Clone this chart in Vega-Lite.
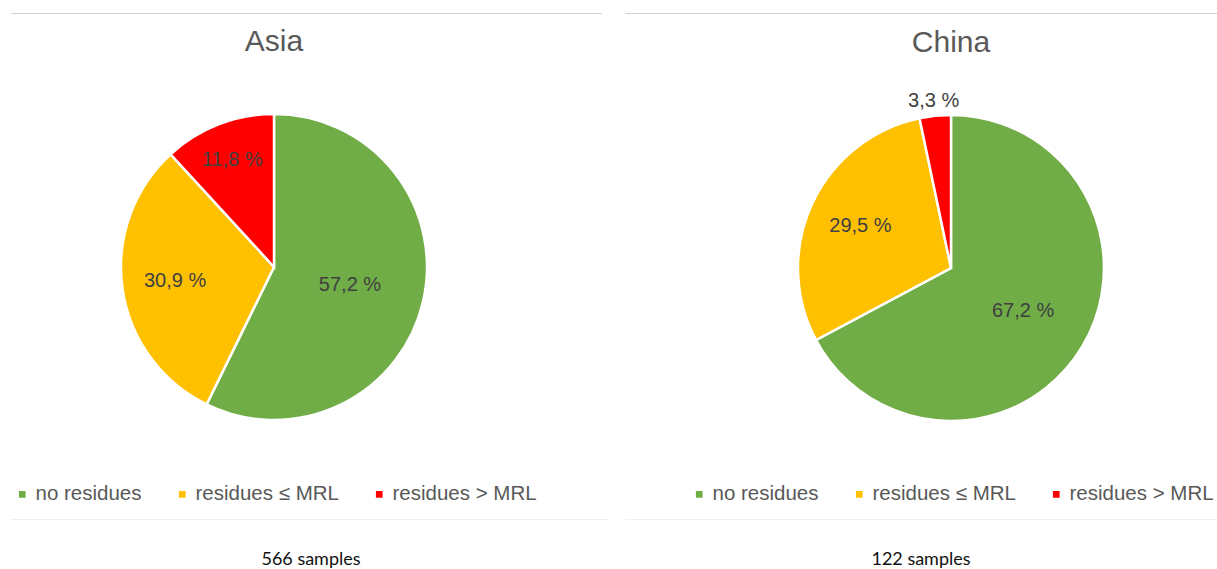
{
  "$schema": "https://vega.github.io/schema/vega-lite/v6.json",
  "padding": {"left": 10, "top": 12, "right": 0, "bottom": 0},
  "background": "white",
  "config": {
    "view": {"stroke": null},
    "font": "Liberation Sans",
    "title": {"fontSize": 30, "fontWeight": "normal", "color": "#595959", "anchor": "middle"},
    "legend": {"layout": {"bottom": {"anchor": "middle"}}}
  },
  "datasets": {
    "asia": [
      {"cat": "no residues", "pct": 57.2, "k": 1, "label": "57,2 %"},
      {"cat": "residues ≤ MRL", "pct": 30.9, "k": 2, "label": "30,9 %"},
      {"cat": "residues > MRL", "pct": 11.8, "k": 3, "label": "11,8 %"}
    ],
    "china": [
      {"cat": "no residues", "pct": 67.2, "k": 1, "label": "67,2 %"},
      {"cat": "residues ≤ MRL", "pct": 29.5, "k": 2, "label": "29,5 %"},
      {"cat": "residues > MRL", "pct": 3.3, "k": 3, "label": "3,3 %"}
    ],
    "blank": [],
    "asiaFoot": [{"t": "566 samples"}],
    "chinaFoot": [{"t": "122 samples"}]
  },
  "spacing": 13,
  "resolve": {"legend": {"color": "independent"}},
  "hconcat": [
    {
      "spacing": 13,
      "resolve": {"legend": {"color": "independent"}},
      "vconcat": [
        {
          "width": 590, "height": 0.01,
          "view": {"stroke": "#d0d0d0", "strokeWidth": 1},
          "data": {"name": "blank"},
          "mark": {"type": "text"},
          "encoding": {"text": {"field": "t"}}
        },
        {
          "width": 526, "height": 316,
          "title": {"text": "Asia", "offset": 52},
          "data": {"name": "asia"},
          "encoding": {
            "theta": {"field": "pct", "type": "quantitative", "stack": true},
            "order": {"field": "k", "type": "ordinal"},
            "color": {
              "field": "cat", "type": "nominal",
              "scale": {"domain": ["no residues", "residues ≤ MRL", "residues > MRL"], "range": ["#70AD47", "#FFC000", "#FF0000"]},
              "legend": {
                "title": null, "orient": "bottom", "direction": "horizontal", "offset": 59,
                "symbolType": "square", "symbolSize": 45, "symbolStrokeWidth": 0,
                "labelFontSize": 20.5, "labelColor": "#595959", "labelFont": "Liberation Sans",
                "columnPadding": 30, "labelOffset": 3
              }
            }
          },
          "layer": [
            {"mark": {"type": "arc", "outerRadius": 153, "stroke": "white", "strokeWidth": 2.5}},
            {
              "mark": {"type": "text", "fontSize": 20, "color": "#404040", "font": "Liberation Sans",
                "radius": {"expr": "datum.pct > 50 ? 78 : datum.pct < 5 ? 168 : datum.pct < 20 ? 115 : 100"}},
              "encoding": {"text": {"field": "label"}, "color": {"value": "#404040"}}
            }
          ]
        },
        {
          "width": 598, "height": 0.01,
          "view": {"stroke": "#f0f0f0", "strokeWidth": 1},
          "data": {"name": "blank"},
          "mark": {"type": "text"},
          "encoding": {"text": {"field": "t"}}
        },
        {
          "width": 600, "height": 53,
          "data": {"name": "asiaFoot"},
          "mark": {"type": "text", "font": "Lato", "fontSize": 18, "color": "#111111"},
          "encoding": {"text": {"field": "t"}}
        }
      ]
    },
    {
      "spacing": 13,
      "resolve": {"legend": {"color": "independent"}},
      "vconcat": [
        {
          "width": 592, "height": 0.01,
          "view": {"stroke": "#d0d0d0", "strokeWidth": 1},
          "data": {"name": "blank"},
          "mark": {"type": "text"},
          "encoding": {"text": {"field": "t"}}
        },
        {
          "width": 652, "height": 316,
          "title": {"text": "China", "offset": 33},
          "data": {"name": "china"},
          "encoding": {
            "theta": {"field": "pct", "type": "quantitative", "stack": true},
            "order": {"field": "k", "type": "ordinal"},
            "color": {
              "field": "cat", "type": "nominal",
              "scale": {"domain": ["no residues", "residues ≤ MRL", "residues > MRL"], "range": ["#70AD47", "#FFC000", "#FF0000"]},
              "legend": {
                "title": null, "orient": "bottom", "direction": "horizontal", "offset": 58,
                "symbolType": "square", "symbolSize": 45, "symbolStrokeWidth": 0,
                "labelFontSize": 20.5, "labelColor": "#595959", "labelFont": "Liberation Sans",
                "columnPadding": 30, "labelOffset": 3
              }
            }
          },
          "layer": [
            {"mark": {"type": "arc", "outerRadius": 153, "stroke": "white", "strokeWidth": 2.5}},
            {
              "mark": {"type": "text", "fontSize": 20, "color": "#404040", "font": "Liberation Sans",
                "radius": {"expr": "datum.pct > 50 ? 84 : datum.pct < 5 ? 168 : datum.pct < 20 ? 115 : 100"}},
              "encoding": {"text": {"field": "label"}, "color": {"value": "#404040"}}
            }
          ]
        },
        {
          "width": 592, "height": 0.01,
          "view": {"stroke": "#f0f0f0", "strokeWidth": 1},
          "data": {"name": "blank"},
          "mark": {"type": "text"},
          "encoding": {"text": {"field": "t"}}
        },
        {
          "width": 592, "height": 53,
          "data": {"name": "chinaFoot"},
          "mark": {"type": "text", "font": "Lato", "fontSize": 18, "color": "#111111"},
          "encoding": {"text": {"field": "t"}}
        }
      ]
    }
  ]
}
